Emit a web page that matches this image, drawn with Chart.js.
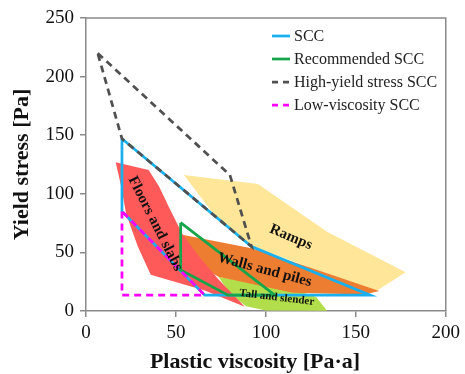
<!DOCTYPE html>
<html>
<head>
<meta charset="utf-8">
<script src="https://cdn.jsdelivr.net/npm/chart.js@4.4.0/dist/chart.umd.min.js"></script>
<style>
  html, body { margin: 0; padding: 0; background: #fff; }
</style>
</head>
<body>
<canvas id="chart" width="465" height="374"></canvas>
<script>
// axis ticks
const xTicks = [0, 50, 100, 150, 200];
const yTicks = [0, 50, 100, 150, 200, 250];

// outlines [plastic viscosity, yield stress]
const sccLine = [[20, 147], [20, 85], [66, 13.5], [158, 13.5], [92, 55], [20, 147]];
const recommendedLine = [[52.6, 75.4], [52.6, 35], [79, 13.5], [105, 13.5], [52.6, 75.4]];
const highYieldLine = [[6.5, 220], [80, 116], [92, 55], [20, 147], [6.5, 220]];
const lowViscLine = [[20, 85], [20, 13.5], [66, 13.5], [20, 85]];

// application zones
const floorsZone = [[16.5, 127], [34.8, 120.3], [40.7, 106], [46, 89], [53.5, 66], [62.6, 47], [73.6, 27], [88.3, 3.7], [66, 17.5], [36, 31], [28.8, 55], [22.3, 83], [19.6, 106]];
const rampsZone = [[54.4, 116], [95.6, 108.4], [134, 67.7], [177.7, 33], [161.5, 17], [92, 55], [71.8, 81]];
const wallsZone = [[53.5, 65], [92, 53.5], [125, 37], [163, 17], [155, 14], [115, 15.5], [73.6, 29.3], [56, 45]];
const tallZone = [[73.6, 29.3], [118, 17], [128, 12], [134, 0.3], [100, 0.5], [89, 4], [80, 15]];

const zoneLabels = ["Floors and slabs", "Ramps", "Walls and piles", "Tall and slender"];
const seriesNames = ["SCC", "Recommended SCC", "High-yield stress SCC", "Low-viscosity SCC"];
const xTitle = "Plastic viscosity [Pa·a]";
const yTitle = "Yield stress [Pa]";

const serif = "'Liberation Serif', 'Times New Roman', serif";

function pts(arr) {
  return arr.map(p => ({ x: p[0], y: p[1] }));
}

function outline(label, arr, color, dash, order) {
  return {
    label, data: pts(arr), showLine: true, fill: false,
    borderColor: color, borderWidth: 2.75, borderDash: dash,
    pointRadius: 0, tension: 0, order
  };
}

function zone(label, arr, color, order) {
  return {
    label, data: pts(arr), showLine: true, fill: 'shape',
    backgroundColor: color, borderWidth: 0, borderColor: color,
    pointRadius: 0, tension: 0, order
  };
}

const extras = {
  id: 'extras',
  afterDatasetsDraw(chart) {
    const ctx = chart.ctx;
    const a = chart.chartArea;
    const xs = chart.scales.x, ys = chart.scales.y;

    // frame top and right
    ctx.save();
    ctx.strokeStyle = '#8a8a8a';
    ctx.lineWidth = 1.5;
    ctx.beginPath();
    ctx.moveTo(a.left, a.top);
    ctx.lineTo(a.right, a.top);
    ctx.lineTo(a.right, a.bottom);
    ctx.stroke();
    ctx.restore();

    // zone labels
    const labelSpec = [
      { t: zoneLabels[0], x: 38.5, y: 74.5, rot: 63, size: 15 },
      { t: zoneLabels[1], x: 113.9, y: 62.9, rot: 23, size: 15 },
      { t: zoneLabels[2], x: 99.3, y: 35, rot: 15, size: 15 },
      { t: zoneLabels[3], x: 106, y: 11.4, rot: 7, size: 11 }
    ];
    labelSpec.forEach(l => {
      ctx.save();
      ctx.translate(xs.getPixelForValue(l.x), ys.getPixelForValue(l.y));
      ctx.rotate(l.rot * Math.PI / 180);
      ctx.font = 'bold ' + l.size + 'px ' + serif;
      ctx.fillStyle = '#111';
      ctx.textAlign = 'center';
      ctx.textBaseline = 'middle';
      ctx.fillText(l.t, 0, 0);
      ctx.restore();
    });

    // legend
    const legendItems = [
      { c: '#1AB0EE', dash: [] },
      { c: '#16A54A', dash: [] },
      { c: '#505050', dash: [6, 5] },
      { c: '#FF00FF', dash: [6, 5] }
    ];
    legendItems.forEach((it, i) => {
      const y = 36 + i * 23;
      ctx.save();
      ctx.strokeStyle = it.c;
      ctx.lineWidth = 2.75;
      ctx.setLineDash(it.dash);
      ctx.beginPath();
      ctx.moveTo(272, y);
      ctx.lineTo(290, y);
      ctx.stroke();
      ctx.setLineDash([]);
      ctx.font = '16px ' + serif;
      ctx.fillStyle = '#222';
      ctx.textAlign = 'left';
      ctx.textBaseline = 'middle';
      ctx.fillText(seriesNames[i], 294, y + 1);
      ctx.restore();
    });

    // x axis title (sits a bit left of the plot centre in the original)
    ctx.save();
    ctx.font = 'bold 22px ' + serif;
    ctx.fillStyle = '#111';
    ctx.textAlign = 'center';
    ctx.textBaseline = 'middle';
    ctx.fillText(xTitle, 255, 362);
    ctx.restore();
  }
};

new Chart(document.getElementById('chart'), {
  type: 'scatter',
  data: {
    datasets: [
      outline(seriesNames[2], highYieldLine, '#505050', [7, 5], 1),
      outline(seriesNames[3], lowViscLine, '#FF00FF', [7, 5], 2),
      outline(seriesNames[1], recommendedLine, '#16A54A', [], 3),
      outline(seriesNames[0], sccLine, '#1AB0EE', [], 4),
      zone(zoneLabels[0], floorsZone, '#FF5A5A', 5),
      zone(zoneLabels[2], wallsZone, '#ED7D31', 6),
      zone(zoneLabels[3], tallZone, '#B3DE4B', 7),
      zone(zoneLabels[1], rampsZone, '#FFE699', 8)
    ]
  },
  options: {
    responsive: false,
    animation: false,
    layout: { padding: { top: 18, right: 15, left: 0, bottom: 0 } },
    plugins: {
      legend: { display: false },
      tooltip: { enabled: false }
    },
    scales: {
      x: {
        type: 'linear', min: 0, max: 200,
        afterBuildTicks(s) { s.ticks = xTicks.map(v => ({ value: v })); },
        afterFit(s) { s.height = 63; },
        grid: { drawOnChartArea: false, drawTicks: true, tickLength: 6, color: '#8a8a8a', lineWidth: 1.5 },
        border: { color: '#8a8a8a', width: 1.5 },
        ticks: { color: '#111', font: { family: serif, size: 19 }, padding: 5, maxRotation: 0 },
        title: { display: false }
      },
      y: {
        type: 'linear', min: 0, max: 250,
        afterBuildTicks(s) { s.ticks = yTicks.map(v => ({ value: v })); },
        afterFit(s) { s.width = 86; },
        grid: { drawOnChartArea: false, drawTicks: true, tickLength: 6, color: '#8a8a8a', lineWidth: 1.5 },
        border: { color: '#8a8a8a', width: 1.5 },
        ticks: { color: '#111', font: { family: serif, size: 19 }, padding: 6 },
        title: { display: true, text: yTitle, color: '#111', font: { family: serif, size: 22, weight: 'bold' }, padding: { top: 9, bottom: 0 } }
      }
    }
  },
  plugins: [extras]
});
</script>
</body>
</html>
